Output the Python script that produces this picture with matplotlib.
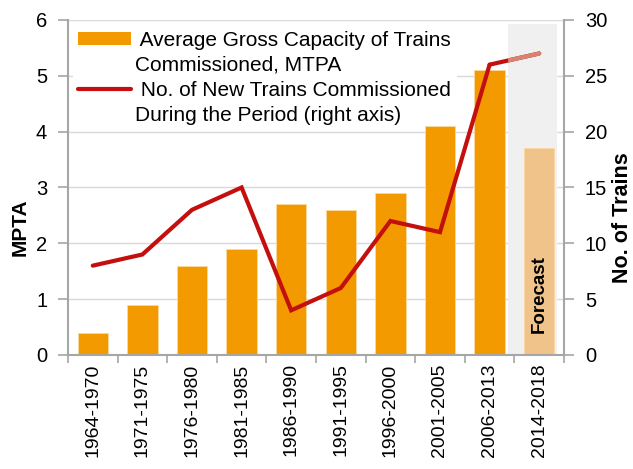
import matplotlib
matplotlib.use('Agg')
import matplotlib.pyplot as plt
from matplotlib.patches import Patch
from matplotlib.lines import Line2D

plt.rcParams['font.family'] = ['Liberation Sans', 'DejaVu Sans']

# data
periods = ['1964-1970', '1971-1975', '1976-1980', '1981-1985', '1986-1990',
           '1991-1995', '1996-2000', '2001-2005', '2006-2013', '2014-2018']
capacity = [0.4, 0.9, 1.6, 1.9, 2.7, 2.6, 2.9, 4.1, 5.1, 3.7]   # MTPA
trains = [8, 9, 13, 15, 4, 6, 12, 11, 26, 27]                    # no. of trains
forecast_idx = 9

orange = '#F39A00'
orange_fc = '#EFC38A'
red = '#C40F0F'
salmon = '#D9826E'
gray = '#A6A6A6'

fig = plt.figure(figsize=(6.33, 4.69), dpi=100)
ax = fig.add_axes([0.1074, 0.2431, 0.7836, 0.7143])
ax2 = ax.twinx()

x = list(range(len(periods)))
colors = [orange_fc if i == forecast_idx else orange for i in x]

# forecast shading
shade = ax.axvspan(forecast_idx - 0.635, forecast_idx + 0.35, ymin=0, ymax=0.988,
                   color='#F0F0F0', zorder=0.6, lw=0)

ax.bar(x, capacity, width=0.61, color=colors, edgecolor='#FAD9A0', linewidth=0.6, zorder=2)
ax.text(forecast_idx, 0.39, 'Forecast', rotation=90, ha='center', va='bottom',
        fontsize=13.5, fontweight='bold', zorder=3)

# line on right axis
ax2.plot(x[:forecast_idx], trains[:forecast_idx], color=red, lw=3, solid_capstyle='round',
         solid_joinstyle='miter', zorder=3)
ax2.plot(x[forecast_idx - 1:], trains[forecast_idx - 1:], color=red, lw=3,
         solid_capstyle='round', zorder=3)
fc_line, = ax2.plot(x[forecast_idx - 1:], trains[forecast_idx - 1:], color=salmon, lw=3,
                    solid_capstyle='round', zorder=4)
fc_line.set_clip_path(shade)

ax.set_xlim(-0.5, len(periods) - 0.5)
ax.set_ylim(0, 6)
ax2.set_ylim(0, 30)
ax.set_yticks(range(0, 7))
ax2.set_yticks(range(0, 31, 5))

ax.set_xticks(x)
ax.set_xticklabels(periods, rotation=90, fontsize=14)
ax.set_xticks([i - 0.5 for i in range(len(periods) + 1)], minor=True)
ax.tick_params(axis='x', which='major', length=0, pad=6)
ax.tick_params(axis='x', which='minor', length=6, width=1.2, color=gray)
ax.tick_params(axis='y', length=7, width=1.2, color=gray, labelsize=14.5, pad=8)
ax2.tick_params(axis='y', length=7, width=1.2, color=gray, labelsize=14.5, pad=8)

ax.yaxis.grid(True, color='#D9D9D9', lw=1)
ax.set_axisbelow(True)

for a in (ax, ax2):
    a.spines['top'].set_visible(False)
ax.spines['right'].set_visible(False)
ax2.spines['left'].set_visible(False)
ax2.spines['bottom'].set_visible(False)
for s in ('left', 'bottom'):
    ax.spines[s].set_color(gray)
    ax.spines[s].set_linewidth(1.5)
ax2.spines['right'].set_color(gray)
ax2.spines['right'].set_linewidth(1.5)

fig.text(20.5 / 633, 1 - 227 / 469, 'MPTA', rotation=90, ha='center', va='center',
         fontsize=15, fontweight='bold')
fig.text(623 / 633, 1 - 218 / 469, 'No. of Trains', rotation=90, ha='center', va='center',
         fontsize=15.5, fontweight='bold')

# legend: handles sit beside the first line of each label
blank = Patch(facecolor='none', edgecolor='none')
handles = [Patch(facecolor=orange, edgecolor='none'), blank,
           Line2D([], [], color=red, lw=3, solid_capstyle='round'), blank]
labels = [' Average Gross Capacity of Trains', 'Commissioned, MTPA',
          ' No. of New Trains Commissioned', 'During the Period (right axis)']
leg = ax.legend(handles, labels, loc='upper left', bbox_to_anchor=(0.01, 0.983),
                borderaxespad=0, fontsize=15, frameon=True, framealpha=1,
                facecolor='white', edgecolor='none', handlelength=2.55, handleheight=0.6,
                handletextpad=0.2, labelspacing=0.29, borderpad=0.25, fancybox=False)
leg.set_zorder(1)  # above grid, below bars

fig.savefig('out.png', dpi=100)
